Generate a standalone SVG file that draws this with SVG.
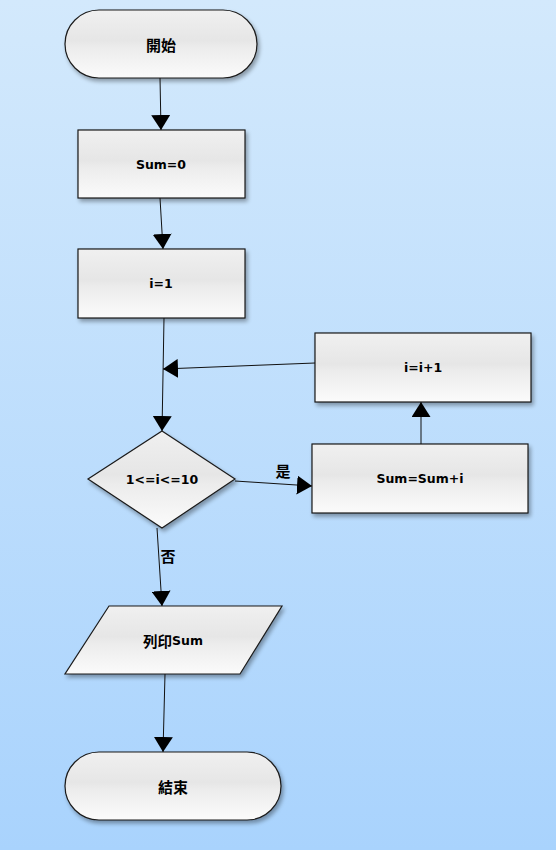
<svg xmlns="http://www.w3.org/2000/svg" width="556" height="850" viewBox="0 0 556 850">
<defs>
<linearGradient id="bg" x1="0" y1="0" x2="0" y2="1">
<stop offset="0" stop-color="#d3e9fc"/>
<stop offset="1" stop-color="#a9d3fd"/>
</linearGradient>
<linearGradient id="nf" x1="0" y1="0" x2="0" y2="1">
<stop offset="0" stop-color="#f0f0f0"/>
<stop offset="0.45" stop-color="#e6e6e6"/>
<stop offset="0.55" stop-color="#ececec"/>
<stop offset="1" stop-color="#fbfbfb"/>
</linearGradient>
<filter id="sh" x="-10%" y="-10%" width="130%" height="140%">
<feGaussianBlur in="SourceAlpha" stdDeviation="2"/>
<feOffset dx="2" dy="3" result="b"/>
<feComponentTransfer><feFuncA type="linear" slope="0.35"/></feComponentTransfer>
<feMerge><feMergeNode/><feMergeNode in="SourceGraphic"/></feMerge>
</filter>
<marker id="ah" viewBox="0 0 15 19" refX="15" refY="9.5" markerWidth="15" markerHeight="19" markerUnits="userSpaceOnUse" orient="auto">
<path d="M0,0 L15,9.5 L0,19 Z" fill="#000"/>
</marker>
</defs>
<style>
.n{fill:url(#nf);stroke:#1a1a1a;stroke-width:1.2;filter:url(#sh)}
.t{font-family:"DejaVu Sans","Noto Sans CJK TC",sans-serif;font-weight:bold;font-size:12.5px;fill:#000;text-anchor:middle;dominant-baseline:central}
.k{font-family:"Noto Sans CJK TC",sans-serif;font-weight:bold;font-size:15px;fill:#000;text-anchor:middle;dominant-baseline:central}
.c{stroke:#111;stroke-width:1;fill:none;marker-end:url(#ah)}
</style>
<rect width="556" height="850" fill="url(#bg)"/>
<g id="connectors">
<line class="c" x1="160" y1="78" x2="161" y2="130"/>
<line class="c" x1="160" y1="198" x2="163" y2="249"/>
<line class="c" x1="164" y1="318" x2="162" y2="431"/>
<line class="c" x1="315" y1="363" x2="163" y2="369"/>
<line class="c" x1="235" y1="481" x2="312" y2="486"/>
<line class="c" x1="421" y1="444" x2="421" y2="402"/>
<line class="c" x1="157" y1="528" x2="162" y2="606"/>
<line class="c" x1="165" y1="674" x2="163" y2="752"/>
<text class="k" x="283" y="470">是</text>
<text class="k" x="168" y="555">否</text>
</g>
<g id="start">
<rect class="n" x="65" y="10" width="192" height="68" rx="34" ry="34"/>
<text class="k" x="161" y="44">開始</text>
</g>
<g id="sum0">
<rect class="n" x="78" y="130" width="167" height="68"/>
<text class="t" x="161" y="164">Sum=0</text>
</g>
<g id="i1">
<rect class="n" x="78" y="249" width="167" height="69"/>
<text class="t" x="161" y="283">i=1</text>
</g>
<g id="inc">
<rect class="n" x="315" y="333" width="216" height="69"/>
<text class="t" x="423" y="367">i=i+1</text>
</g>
<g id="cond">
<polygon class="n" points="162,431 235,479 162,528 88,479"/>
<text class="t" x="162" y="479">1&lt;=i&lt;=10</text>
</g>
<g id="add">
<rect class="n" x="312" y="444" width="216" height="69"/>
<text class="t" x="420" y="478">Sum=Sum+i</text>
</g>
<g id="print">
<polygon class="n" points="109,606 282,606 240,674 65,674"/>
<text x="173" y="640" class="t"><tspan style="font-family:'Noto Sans CJK TC',sans-serif;font-size:14.5px">列印</tspan>Sum</text>
</g>
<g id="end">
<rect class="n" x="65" y="752" width="216" height="68" rx="34" ry="34"/>
<text class="k" x="173" y="786">結束</text>
</g>
</svg>
